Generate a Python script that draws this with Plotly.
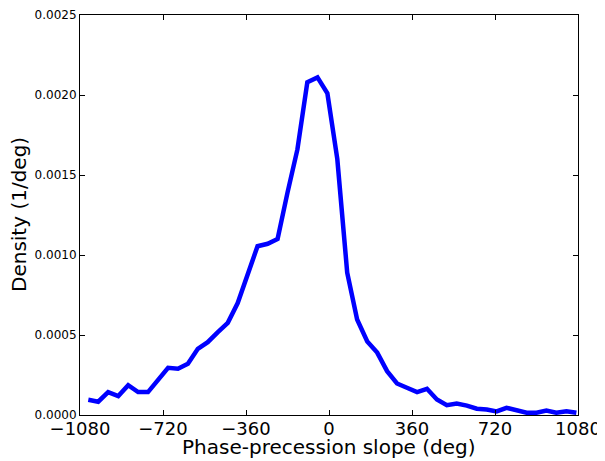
import plotly.graph_objects as go

# bin centres (deg) and density values
slope_deg = [-1044, -1001, -958, -914, -871, -828, -785, -742, -698, -655,
             -612, -569, -526, -482, -439, -396, -353, -310, -266, -223,
             -180, -137, -94, -50, -7, 36, 79, 122, 166, 209,
             252, 295, 338, 382, 425, 468, 511, 554, 598, 641,
             684, 727, 770, 814, 857, 900, 943, 986, 1030, 1073]
density = [9.5e-5, 8.3e-5, 1.43e-4, 1.18e-4, 1.86e-4, 1.43e-4, 1.43e-4, 2.2e-4, 2.95e-4, 2.89e-4,
           3.2e-4, 4.14e-4, 4.55e-4, 5.18e-4, 5.76e-4, 7.0e-4, 8.8e-4, 1.055e-3, 1.07e-3, 1.10e-3,
           1.39e-3, 1.66e-3, 2.08e-3, 2.11e-3, 2.01e-3, 1.60e-3, 8.9e-4, 5.97e-4, 4.6e-4, 3.9e-4,
           2.74e-4, 1.97e-4, 1.7e-4, 1.43e-4, 1.64e-4, 9.7e-5, 6.1e-5, 7.2e-5, 5.9e-5, 3.9e-5,
           3.4e-5, 2.2e-5, 4.5e-5, 2.8e-5, 1.4e-5, 1.4e-5, 2.8e-5, 1.4e-5, 2.4e-5, 1.4e-5]

x_ticks = [-1080, -720, -360, 0, 360, 720, 1080]
x_ticktext = ["\u22121080", "\u2212720", "\u2212360", "0", "360", "720", "1080"]
y_ticks = [0.0, 0.0005, 0.0010, 0.0015, 0.0020, 0.0025]

fig = go.Figure(go.Scatter(
    x=slope_deg, y=density, mode="lines",
    line=dict(color="#0000ff", width=4.5),
    showlegend=False,
))

# the page body adds an 8px offset, so the figure is 8px smaller each way
fig.update_layout(
    width=597, height=453,
    margin=dict(l=72, r=27, t=7, b=46, autoexpand=False),
    paper_bgcolor="white", plot_bgcolor="white",
    font=dict(family="DejaVu Sans", color="black"),
)
fig.update_xaxes(
    range=[-1080, 1080], tickvals=x_ticks, ticktext=x_ticktext,
    tickfont=dict(size=18), showgrid=False, zeroline=False, automargin=False,
    showline=True, linecolor="black", linewidth=1, mirror="ticks",
    ticks="inside", ticklen=5, tickcolor="black", ticklabelstandoff=-3,
)
fig.update_yaxes(
    range=[0, 0.0025], tickvals=y_ticks, tickformat=".4f",
    tickfont=dict(size=12), showgrid=False, zeroline=False, automargin=False,
    showline=True, linecolor="black", linewidth=1, mirror="ticks",
    ticks="inside", ticklen=5, tickcolor="black",
)

# axis titles placed as annotations so they sit where the reference has them
fig.add_annotation(
    text="Phase-precession slope (deg)", xref="paper", yref="paper",
    x=0.5, y=0, yshift=-32, showarrow=False, font=dict(size=20),
    xanchor="center", yanchor="middle",
)
fig.add_annotation(
    text="Density (1/deg)", xref="paper", yref="paper",
    x=0, y=0.5, xshift=-61, showarrow=False, font=dict(size=20),
    textangle=-90, xanchor="center", yanchor="middle",
)

fig.write_html("out.html")
